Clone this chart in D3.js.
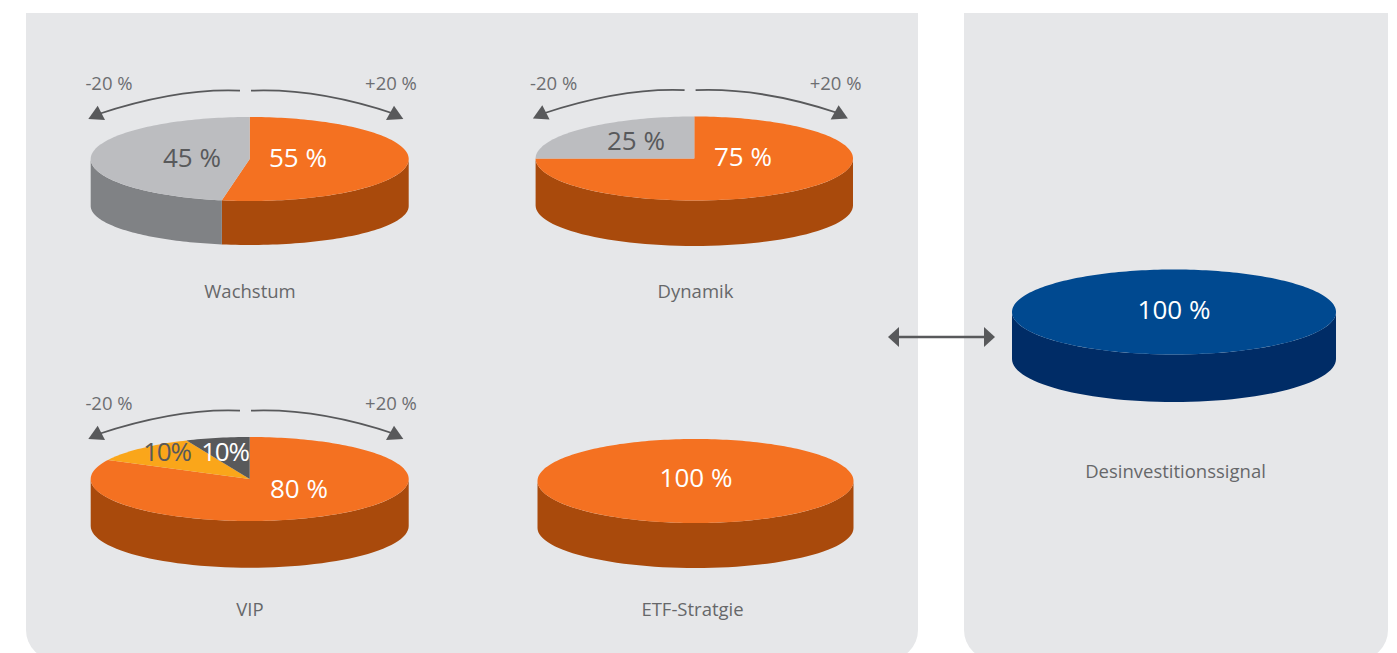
<!DOCTYPE html>
<html>
<head>
<meta charset="utf-8">
<script src="https://cdn.jsdelivr.net/npm/d3@7"></script>
<style>
  html, body { margin: 0; padding: 0; background: #fff; }
  svg { display: block; }
  text { font-family: "Open Sans", sans-serif; }
</style>
</head>
<body>
<div id="chart"></div>
<script>
const w = 1397, h = 653;

// strategies, in drawing order
const names = ["Wachstum", "Dynamik", "VIP", "ETF-Stratgie", "Desinvestitionssignal"];

// angular share of each slice as it is drawn, going clockwise from 12 o'clock
const wachstumShares = [52.8, 47.2];
const dynamikShares = [75, 25];
const vipShares = [82.5, 11, 6.5];
const etfShares = [100];
const desinvestShares = [100];

// printed slice labels
const wachstumLabels = ["55 %", "45 %"];
const dynamikLabels = ["75 %", "25 %"];
const vipLabels = ["80 %", "10%", "10%"];
const etfLabels = ["100 %"];
const desinvestLabels = ["100 %"];

const rangeLabels = ["-20 %", "+20 %"];

const orange = ["#f47121", "#a94a0c"];
const grey = ["#bcbdc0", "#808285"];
const yellow = ["#faa61a", "#a94a0c"];
const dark = ["#58595b", "#a94a0c"];
const blue = ["#004990", "#002c66"];

const pies = [
  { name: names[0], shares: wachstumShares, labels: wachstumLabels, colors: [orange, grey],
    cx: 249.7, cy: 159, rx: 159, ry: 42, botRy: 39, nameX: 250, nameY: 298, range: true,
    labelPos: [[298, 167], [192, 167]] },
  { name: names[1], shares: dynamikShares, labels: dynamikLabels, colors: [orange, grey],
    cx: 694.3, cy: 158.5, rx: 158.7, ry: 42, botRy: 40.5, nameX: 695.5, nameY: 298, range: true,
    labelPos: [[743, 166], [636, 150]] },
  { name: names[2], shares: vipShares, labels: vipLabels, colors: [orange, yellow, dark],
    cx: 249.7, cy: 479, rx: 159, ry: 42, botRy: 41.7, nameX: 250, nameY: 616, range: true,
    labelPos: [[299, 498], [167, 461], [225, 461]] },
  { name: names[3], shares: etfShares, labels: etfLabels, colors: [orange],
    cx: 695.5, cy: 481, rx: 158, ry: 42, botRy: 40, nameX: 692.5, nameY: 616, range: false,
    labelPos: [[696, 487]] },
  { name: names[4], shares: desinvestShares, labels: desinvestLabels, colors: [blue],
    cx: 1174, cy: 312, rx: 162, ry: 42.5, botRy: 43, nameX: 1175.5, nameY: 478, range: false,
    labelPos: [[1174, 319]] }
];

const depth = 47;

const svg = d3.select("#chart").append("svg")
  .attr("width", w)
  .attr("height", h);

// panels, rounded at the bottom only and cut off by the page edge
function panel(x0, x1, y0, y1, r) {
  const p = d3.path();
  p.moveTo(x0, y0);
  p.lineTo(x1, y0);
  p.arcTo(x1, y1, x1 - r, y1, r);
  p.arcTo(x0, y1, x0, y1 - r, r);
  p.closePath();
  return p.toString();
}
svg.append("path").attr("d", panel(26, 918, 13, 660, 30)).attr("fill", "#e6e7e9");
svg.append("path").attr("d", panel(964, 1388, 13, 660, 30)).attr("fill", "#e6e7e9");

const pieLayout = d3.pie().sort(null).value(d => d);

// point on the ellipse for an angle measured clockwise from 12 o'clock
function pt(p, a, dy, ry) {
  return [p.cx + p.rx * Math.sin(a), p.cy + dy - ry * Math.cos(a)];
}

// outline of a piece of the rim between two angles on the front half
function sidePath(p, a0, a1) {
  const n = 60;
  const top = d3.range(n + 1).map(i => pt(p, a0 + (a1 - a0) * i / n, 0, p.ry));
  const bot = d3.range(n + 1).map(i => pt(p, a1 - (a1 - a0) * i / n, depth, p.botRy));
  return d3.line()(top.concat(bot)) + "Z";
}

function slicePath(p, a0, a1) {
  const n = Math.max(2, Math.ceil((a1 - a0) * 40));
  const rim = d3.range(n + 1).map(i => pt(p, a0 + (a1 - a0) * i / n, 0, p.ry));
  return d3.line()([[p.cx, p.cy]].concat(rim)) + "Z";
}

// the two swing arrows are not mirror images in the original
const swing = [
  { start: -9.7, ctrl: -72, end: -151, head: [[-161.4, -40], [-144.7, -39], [-152, -53.3]], textX: -140.7 },
  { start: 1.3, ctrl: 68, end: 145, head: [[153.6, -40], [136.3, -39], [144.3, -53.3]], textX: 141.3 }
];

function drawRange(p) {
  const g = svg.append("g");
  swing.forEach((s, i) => {
    const c = d3.path();
    c.moveTo(p.cx + s.start, p.cy - 68.3);
    c.quadraticCurveTo(p.cx + s.ctrl, p.cy - 71, p.cx + s.end, p.cy - 45);
    g.append("path").attr("d", c.toString())
      .attr("fill", "none").attr("stroke", "#58595b").attr("stroke-width", 1.8);
    g.append("path")
      .attr("d", d3.line()(s.head.map(d => [p.cx + d[0], p.cy + d[1]])) + "Z")
      .attr("fill", "#58595b");
    g.append("text")
      .attr("x", p.cx + s.textX)
      .attr("y", p.cy - 69)
      .attr("text-anchor", "middle")
      .attr("font-size", 18.5)
      .attr("fill", "#6d6e71")
      .text(rangeLabels[i]);
  });
}

pies.forEach(p => {
  const arcs = pieLayout(p.shares);
  const g = svg.append("g");

  // rim first, only the front half (90deg to 270deg) can be seen
  arcs.forEach((a, i) => {
    const a0 = Math.max(a.startAngle, Math.PI / 2);
    const a1 = Math.min(a.endAngle, 3 * Math.PI / 2);
    if (a1 <= a0) return;
    g.append("path")
      .attr("d", sidePath(p, a0, a1))
      .attr("fill", p.colors[i][1]);
  });

  arcs.forEach((a, i) => {
    g.append("path")
      .attr("d", slicePath(p, a.startAngle, a.endAngle))
      .attr("fill", p.colors[i][0]);
  });

  arcs.forEach((a, i) => {
    // dark text on the light slices, white on everything else
    const onLight = p.colors[i] === grey || p.colors[i] === yellow;
    g.append("text")
      .attr("x", p.labelPos[i][0])
      .attr("y", p.labelPos[i][1])
      .attr("text-anchor", "middle")
      .attr("font-size", 26)
      .attr("letter-spacing", p.labels[i].indexOf(" ") < 0 ? -1.2 : 0)
      .attr("fill", onLight ? "#58595b" : "#fff")
      .text(p.labels[i]);
  });

  svg.append("text")
    .attr("x", p.nameX)
    .attr("y", p.nameY)
    .attr("text-anchor", "middle")
    .attr("font-size", 18.5)
    .attr("fill", "#666769")
    .text(p.name);

  if (p.range) drawRange(p);
});

// double arrow between the panels
const dbl = svg.append("g");
dbl.append("line")
  .attr("x1", 895).attr("x2", 988)
  .attr("y1", 337).attr("y2", 337)
  .attr("stroke", "#58595b").attr("stroke-width", 2.5);
dbl.append("path")
  .attr("d", d3.line()([[888, 337], [899, 327], [899, 347]]) + "Z")
  .attr("fill", "#58595b");
dbl.append("path")
  .attr("d", d3.line()([[995, 337], [984, 327], [984, 347]]) + "Z")
  .attr("fill", "#58595b");
</script>
</body>
</html>
